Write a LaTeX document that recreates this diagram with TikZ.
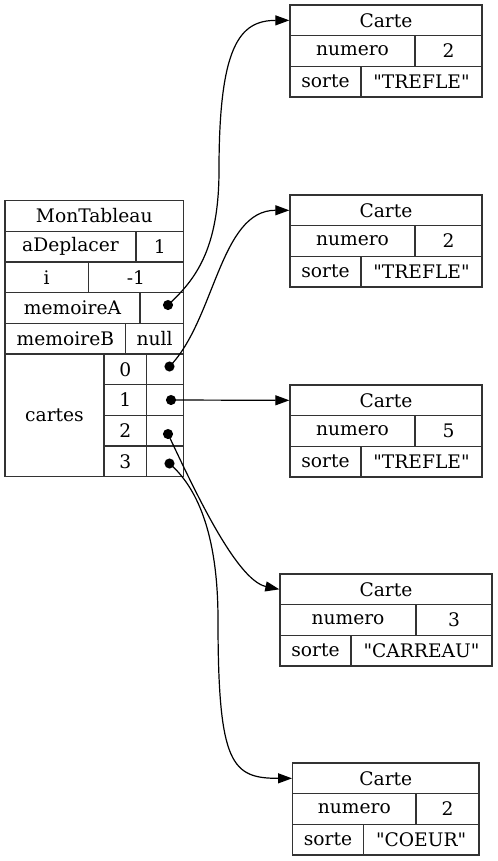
\documentclass[tikz,border=0pt]{standalone}
\usepackage{fontspec}
\setmainfont{DejaVu Serif}[Ligatures=TeXOff]
\usetikzlibrary{arrows.meta}
\tikzset{
  cell/.style={draw=black!80, line width=1pt, inner sep=0pt, font=\fontsize{14pt}{16pt}\selectfont},
  ptr/.style={-{Triangle[length=10.5pt,width=7.5pt]}, line width=0.9pt},
  tail/.style={fill=black}
}
\def\cell(#1)(#2,#3)(#4,#5)#6{\node[cell, minimum width={((#4)-(#2))*0.75pt}, minimum height={((#5)-(#3))*0.75pt}] (#1) at ({((#2)+(#4))/2},{((#3)+(#5))/2}) {#6};}
\newcommand{\carte}[8]{%
  \cell(#1)(#2,#4)(#3,{#4+30.67}){Carte}
  \cell(#1n)(#2,{#4+30.67})(#5,{#4+61.33}){numero}
  \cell(#1v)(#5,{#4+30.67})(#3,{#4+61.33}){#7}
  \cell(#1s)(#2,{#4+61.33})(#6,{#4+92}){sorte}
  \cell(#1t)(#6,{#4+61.33})(#3,{#4+92}){"#8"}
}

\begin{document}
\begin{tikzpicture}[x=0.75pt, y=-0.75pt]
  \useasboundingbox (0,0) rectangle (497,861);
  %%%%% TABLEAU %%%%%
  \cell(mt)(5,200.7)(183.5,231.3){MonTableau}
  \cell(dep)(5,231.3)(136,262){aDeplacer}
  \cell(depv)(136,231.3)(183.5,262){1}
  \cell(i)(5,262)(88.3,292.7){i}
  \cell(iv)(88.3,262)(183.5,292.7){-1}
  \cell(memA)(5,292.7)(140,323.3){memoireA}
  \cell(memAv)(140,292.7)(183.5,323.3){}
  \cell(memB)(5,323.3)(125.7,354){memoireB}
  \cell(memBv)(125.7,323.3)(183.5,354){null}
  \cell(cartes)(5,354)(104,476.7){cartes}
  \foreach \k in {0,...,3} {
    \cell(idx\k)(104,{354+\k*30.67})(146.7,{384.67+\k*30.67}){\k}
    \cell(val\k)(146.7,{354+\k*30.67})(183.5,{384.67+\k*30.67}){}
  }

  %%%%% CARTES %%%%%
  \carte{c1}{290}{482}{5}{415}{361}{2}{TREFLE}
  \carte{c2}{290}{482}{195}{415}{361}{2}{TREFLE}
  \carte{c3}{290}{482}{385}{415}{361}{5}{TREFLE}
  \carte{c4}{280}{492}{574}{416}{351}{3}{CARREAU}
  \carte{c5}{292.7}{479}{763}{416}{363.3}{2}{COEUR}

  %%%%% POINTEURS %%%%%
  \coordinate (dA) at (168,305);
  \coordinate (d0) at (169.5,366.5);
  \coordinate (d1) at (171,400);
  \coordinate (d2) at (168,434);
  \coordinate (d3) at (169.5,463.5);

  \draw[ptr] (dA) .. controls (195,280) and (219,250) .. (219,170)
    .. controls (219,45) and (240,20.5) .. (c1.west);
  \draw[ptr] (d0) .. controls (215,320) and (220,210) .. (c2.west);
  \draw[ptr] (d1) -- (c3.west);
  \draw[ptr] (d2) .. controls (190,480) and (235,580) .. (c4.west);
  \draw[ptr] (d3) .. controls (200,490) and (218,540) .. (218,620)
    .. controls (218,765) and (232,778.3) .. (c5.west);

  \foreach \d in {dA,d0,d1,d2,d3}
    \fill[tail] (\d) circle[radius=3.8pt];
\end{tikzpicture}
\end{document}
